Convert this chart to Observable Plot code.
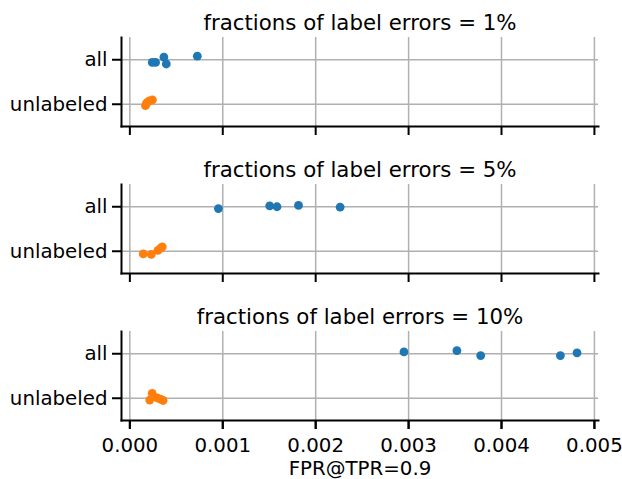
<!DOCTYPE html>
<html>
<head>
<meta charset="utf-8">
<script src="https://cdn.jsdelivr.net/npm/d3@7"></script>
<script src="https://cdn.jsdelivr.net/npm/@observablehq/plot@0.6"></script>
<style>
  html, body { margin: 0; padding: 0; background: #fff; }
  #chart { width: 622px; height: 479px; }
</style>
</head>
<body>
<div id="chart"></div>
<script>
// Fractions of label errors, one strip panel per fraction
const panels = ["1%", "5%", "10%"];
const groups = ["all", "unlabeled"];
const xTicks = [0, 0.001, 0.002, 0.003, 0.004, 0.005];

// FPR@TPR=0.9 per run, with the strip jitter (in category units)
const fprAll1 = [0.000241, 0.000277, 0.000366, 0.000392, 0.000726];
const jitAll1 = [0.06, 0.06, -0.06, 0.095, -0.08];
const fprUnl1 = [0.000168, 0.000179, 0.000195, 0.000211, 0.000243];
const jitUnl1 = [0.033, -0.022, -0.055, -0.078, -0.1];

const fprAll5 = [0.000953, 0.001505, 0.001584, 0.001815, 0.002263];
const jitAll5 = [0.04, -0.02, 0.0, -0.03, 0.01];
const fprUnl5 = [0.000144, 0.000231, 0.000302, 0.000331, 0.000349];
const jitUnl5 = [0.06, 0.07, -0.02, -0.07, -0.1];

const fprAll10 = [0.00295, 0.00352, 0.003776, 0.004634, 0.004813];
const jitAll10 = [-0.04, -0.07, 0.04, 0.04, -0.02];
const fprUnl10 = [0.000214, 0.00024, 0.000294, 0.000329, 0.000358];
const jitUnl10 = [0.04, -0.11, -0.01, 0.02, 0.05];

const colors = ["#1f77b4", "#ff7f0e"];

const series = [
  ["1%", 0, fprAll1, jitAll1], ["1%", 1, fprUnl1, jitUnl1],
  ["5%", 0, fprAll5, jitAll5], ["5%", 1, fprUnl5, jitUnl5],
  ["10%", 0, fprAll10, jitAll10], ["10%", 1, fprUnl10, jitUnl10]
];
const rows = series.flatMap(([panel, g, xs, js]) =>
  xs.map((v, i) => ({panel, group: groups[g], fpr: v, pos: g + js[i]}))
);

const font = "'DejaVu Sans', sans-serif";
const tickFont = 19.8;
const titleFont = 21.3;

const chart = Plot.plot({
  width: 622,
  height: 479,
  marginLeft: 121,
  marginRight: 24,
  marginTop: 37,
  marginBottom: 59,
  style: {fontFamily: font, fontSize: `${tickFont}px`, color: "black", background: "white"},
  x: {domain: [-0.00009, 0.005044]},
  y: {domain: [-0.5, 1.5], reverse: true, axis: null},
  fy: {domain: panels, paddingInner: 0.396, paddingOuter: 0, axis: null},
  color: {domain: groups, range: colors},
  marks: [
    Plot.gridX(xTicks, {stroke: "#b0b0b0", strokeOpacity: 1, strokeWidth: 1.5}),
    Plot.gridY([0, 1], {stroke: "#b0b0b0", strokeOpacity: 1, strokeWidth: 1.5}),
    Plot.dot(rows, {x: "fpr", y: "pos", fy: "panel", fill: "group", r: 4.4}),
    Plot.frame({anchor: "left", stroke: "black", strokeWidth: 2}),
    Plot.frame({anchor: "bottom", stroke: "black", strokeWidth: 2}),
    Plot.axisY([0, 1], {
      tickFormat: (i) => groups[i], tickSize: 9, tickPadding: 5,
      strokeWidth: 2, fontSize: tickFont, label: null
    }),
    Plot.axisX(xTicks, {
      facetAnchor: null, tickSize: 9, strokeWidth: 2,
      tickFormat: () => "", label: null
    }),
    Plot.axisX(xTicks, {
      facetAnchor: "bottom", tickSize: 9, strokeWidth: 2, tickPadding: 8,
      tickFormat: d3.format(".3f"), fontSize: tickFont,
      label: "FPR@TPR=0.9", labelAnchor: "center", labelArrow: "none", labelOffset: 54
    }),
    Plot.text(panels, {
      fy: (d) => d, text: (d) => `fractions of label errors = ${d}`,
      frameAnchor: "top", lineAnchor: "bottom", dy: -8, fontSize: titleFont
    })
  ]
});

document.getElementById("chart").appendChild(chart);
</script>
</body>
</html>
